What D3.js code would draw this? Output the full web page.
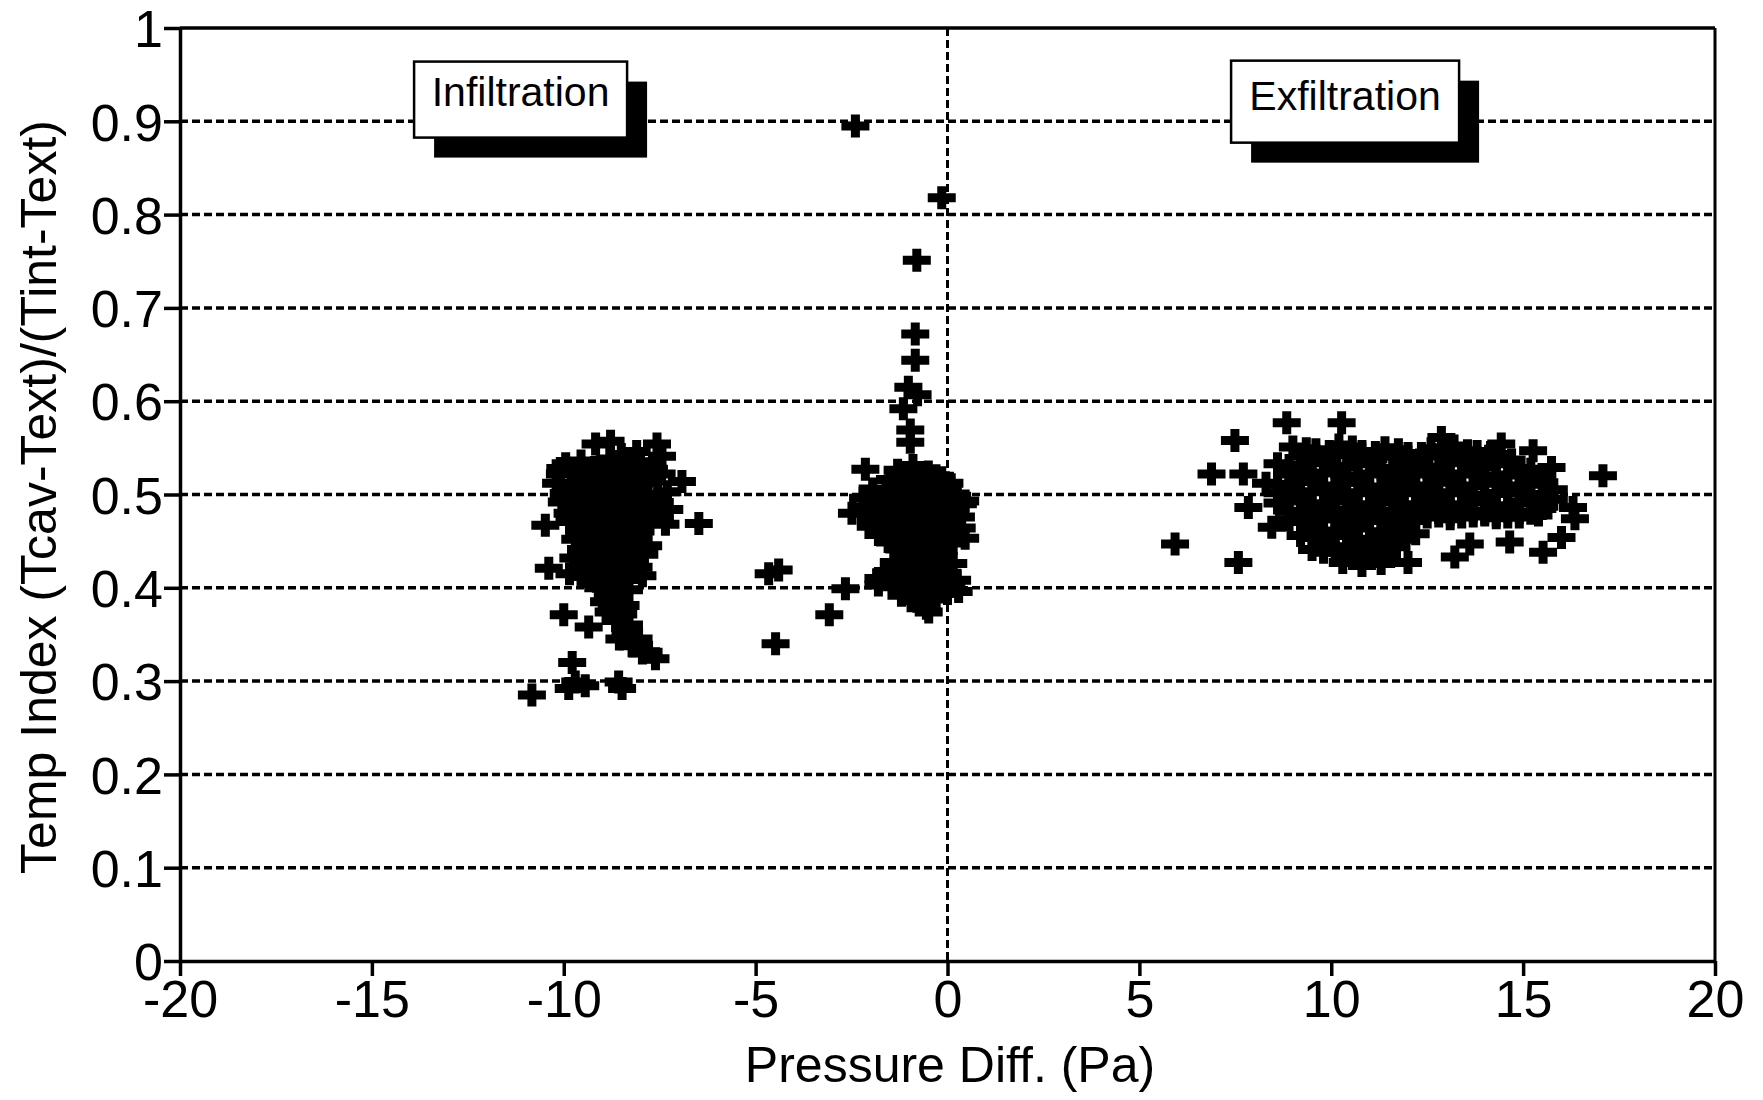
<!DOCTYPE html>
<html>
<head>
<meta charset="utf-8">
<script src="https://d3js.org/d3.v7.min.js"></script>
<style>
  body { margin: 0; background: #fff; }
  svg text { font-family: "Liberation Sans", Arial, Helvetica, sans-serif; fill: #000; }
</style>
</head>
<body>
<svg id="chart" width="1763" height="1100"></svg>
<script>
// tick values / labels
const xTicks = [-20, -15, -10, -5, 0, 5, 10, 15, 20];
const xTickLabels = ["-20", "-15", "-10", "-5", "0", "5", "10", "15", "20"];
const yTicks = [0, 0.1, 0.2, 0.3, 0.4, 0.5, 0.6, 0.7, 0.8, 0.9, 1];
const yTickLabels = ["0", "0.1", "0.2", "0.3", "0.4", "0.5", "0.6", "0.7", "0.8", "0.9", "1"];
const labelTexts = ["Infiltration", "Exfiltration"];

// readings: [pressure diff (Pa), temp index]
const infiltrationPts = [
  [-9.17,0.554],[-8.78,0.557],[-7.57,0.554],[-7.44,0.541],[-10.09,0.528],[-6.92,0.514],
  [-6.48,0.469],[-7.35,0.468],[-10.48,0.467],[-10.39,0.421],[-10.0,0.371],[-9.35,0.358],
  [-8.39,0.381],[-7.79,0.331],[-7.61,0.324],[-9.78,0.320],[-9.70,0.299],[-9.87,0.292],
  [-9.44,0.295],[-8.57,0.299],[-8.48,0.292],[-10.83,0.285],
  [-8.83,0.374],[-8.39,0.353],[-8.22,0.338],[-8.83,0.396],[-8.57,0.389],[-8.95,0.385],
  [-8.65,0.365],[-8.05,0.345],
  [-8.5,0.543],[-8.1,0.546],
  [-9.95,0.533],[-9.55,0.536],[-9.2,0.529],[-8.8,0.538],[-8.4,0.531],[-8.0,0.535],[-7.65,0.527],
  [-10.1,0.522],[-9.75,0.524],[-9.35,0.521],[-8.95,0.525],[-8.6,0.52],[-8.2,0.524],[-7.8,0.519],[-7.45,0.522],
  [-10.2,0.512],[-9.8,0.509],[-9.4,0.515],[-9.0,0.511],[-8.6,0.516],[-8.2,0.508],[-7.8,0.513],[-7.3,0.503],
  [-10.0,0.501],[-9.6,0.5],[-9.2,0.503],[-8.8,0.499],[-8.4,0.502],[-8.0,0.498],[-7.55,0.5],
  [-10.05,0.492],[-9.6,0.488],[-9.2,0.494],[-8.8,0.489],[-8.4,0.493],[-8.0,0.487],[-7.6,0.491],[-7.25,0.484],
  [-9.9,0.48],[-9.45,0.482],[-9.05,0.479],[-8.65,0.483],[-8.25,0.478],[-7.85,0.481],[-7.5,0.477],
  [-9.85,0.471],[-9.45,0.468],[-9.05,0.473],[-8.6,0.466],[-8.2,0.472],[-7.85,0.469],
  [-9.6,0.461],[-9.2,0.459],[-8.8,0.462],[-8.4,0.458],[-8.0,0.461],
  [-9.7,0.452],[-9.3,0.448],[-8.9,0.454],[-8.5,0.447],[-8.1,0.451],[-7.8,0.445],
  [-9.55,0.441],[-9.15,0.438],[-8.75,0.442],[-8.35,0.437],[-7.95,0.44],
  [-9.75,0.432],[-9.35,0.428],[-8.95,0.434],[-8.55,0.427],[-8.15,0.431],[-7.9,0.436],
  [-9.6,0.421],[-9.2,0.418],[-8.8,0.423],[-8.4,0.419],[-8.05,0.422],
  [-9.55,0.412],[-9.15,0.407],[-8.75,0.414],[-8.35,0.409],[-7.95,0.413],[-9.85,0.415],
  [-9.1,0.4],[-8.7,0.402],[-8.3,0.398],[-8.75,0.38],[-8.45,0.372],[-8.55,0.345],[-8.3,0.36],[-7.95,0.33]
];

const nearZeroPts = [
  [-2.40,0.895],[-0.15,0.818],[-0.80,0.751],[-0.84,0.672],[-0.84,0.644],[-1.02,0.615],
  [-0.78,0.607],[-1.15,0.592],[-0.97,0.569],[-0.97,0.556],[-2.14,0.527],[-2.49,0.480],
  [0.46,0.493],[0.37,0.464],[0.46,0.453],[-1.80,0.403],[0.29,0.396],[-0.49,0.374],[-0.55,0.378],
  [-4.66,0.415],[-4.40,0.419],[-4.48,0.340],[-3.08,0.371],[-2.66,0.399],
  [-1.3,0.526],[-0.9,0.531],[-0.5,0.524],[-0.15,0.518],
  [-1.5,0.516],[-1.1,0.518],[-0.7,0.515],[-0.3,0.52],[0.05,0.512],
  [-1.95,0.506],[-1.6,0.503],[-1.2,0.509],[-0.8,0.502],[-0.4,0.507],[0.0,0.503],[0.25,0.498],
  [-2.2,0.496],[-1.8,0.494],[-1.4,0.497],[-1.0,0.493],[-0.6,0.496],[-0.2,0.492],[0.15,0.495],[0.4,0.49],
  [-2.2,0.486],[-1.8,0.483],[-1.4,0.488],[-1.0,0.482],[-0.6,0.487],[-0.2,0.481],[0.2,0.485],
  [-2.0,0.475],[-1.6,0.473],[-1.2,0.476],[-0.8,0.472],[-0.4,0.475],[0.0,0.471],[0.35,0.476],
  [-2.0,0.466],[-1.6,0.463],[-1.2,0.468],[-0.8,0.462],[-0.4,0.467],[0.0,0.464],
  [-1.8,0.457],[-1.4,0.455],[-1.0,0.458],[-0.6,0.455],[-0.2,0.457],[0.2,0.456],
  [-1.5,0.449],[-1.1,0.452],[-0.7,0.447],[-0.3,0.451],[0.1,0.448],
  [-1.3,0.442],[-0.9,0.44],[-0.5,0.443],[-0.1,0.44],
  [-1.0,0.435],[-0.6,0.432],[-0.3,0.437],
  [-1.4,0.427],[-1.0,0.425],[-0.6,0.428],[-0.2,0.424],[0.15,0.426],
  [-1.6,0.416],[-1.2,0.419],[-0.8,0.413],[-0.4,0.418],[0.0,0.414],
  [-1.8,0.41],[-1.4,0.409],[-1.0,0.41],[-0.6,0.409],[-0.2,0.41],[0.25,0.408],
  [-1.4,0.401],[-1.0,0.397],[-0.6,0.402],[-0.2,0.398],[0.1,0.404],
  [-1.2,0.392],[-0.8,0.393],[-0.4,0.392],[0.0,0.394],
  [-0.95,0.386],[-0.6,0.384],[-0.3,0.388]
];

const exfiltrationPts = [
  [7.49,0.558],[6.88,0.522],[5.93,0.447],[7.58,0.427],[8.84,0.577],[10.27,0.577],
  [7.71,0.522],[7.84,0.486],[8.45,0.465],[17.08,0.520],[16.30,0.486],[16.35,0.474],
  [16.0,0.454],[15.52,0.438],[14.65,0.449],[13.22,0.433],[12.0,0.427],[13.61,0.447],
  [15.74,0.529],[12.87,0.561],[14.43,0.554],[15.26,0.547],
  [9.0,0.551],[9.6,0.548],[10.2,0.553],[10.8,0.546],[11.4,0.550],[12.0,0.544],[12.6,0.549],[13.2,0.552],[13.8,0.546],[14.4,0.543],
  [9.35,0.549],[9.95,0.546],[10.55,0.551],[11.15,0.545],[11.75,0.548],[12.35,0.544],[12.95,0.55],[13.55,0.547],[14.15,0.545],
  [9.3,0.541],[9.9,0.539],[10.5,0.543],[11.1,0.538],[11.7,0.541],[12.3,0.537],[12.9,0.542],[13.5,0.539],[14.1,0.541],[14.7,0.537],
  [8.6,0.533],[9.2,0.529],[9.8,0.535],[10.4,0.530],[11.0,0.534],[11.6,0.528],[12.2,0.533],[12.8,0.529],[13.4,0.535],[14.0,0.530],[14.6,0.534],[15.2,0.527],
  [8.9,0.531],[9.5,0.534],[10.1,0.529],[10.7,0.533],[11.3,0.527],[11.9,0.532],[12.5,0.528],[13.1,0.534],[13.7,0.529],[14.3,0.533],[14.9,0.528],
  [8.9,0.522],[9.5,0.52],[10.1,0.524],[10.7,0.519],[11.3,0.523],[11.9,0.518],[12.5,0.522],[13.1,0.519],[13.7,0.523],[14.3,0.518],[14.9,0.522],[15.5,0.52],
  [9.2,0.521],[9.8,0.523],[10.4,0.52],[11.0,0.522],[11.6,0.519],[12.2,0.523],[12.8,0.52],[13.4,0.522],[14.0,0.52],[14.6,0.521],[15.2,0.519],
  [8.3,0.512],[8.9,0.509],[9.5,0.514],[10.1,0.508],[10.7,0.513],[11.3,0.507],[11.9,0.512],[12.5,0.508],[13.1,0.514],[13.7,0.509],[14.3,0.513],[14.9,0.507],[15.5,0.511],
  [8.6,0.511],[9.2,0.514],[9.8,0.509],[10.4,0.513],[11.0,0.508],[11.6,0.512],[12.2,0.509],[12.8,0.513],[13.4,0.508],[14.0,0.512],[14.6,0.509],[15.2,0.513],
  [8.6,0.502],[9.2,0.5],[9.8,0.504],[10.4,0.499],[11.0,0.503],[11.6,0.498],[12.2,0.502],[12.8,0.499],[13.4,0.503],[14.0,0.498],[14.6,0.502],[15.2,0.5],[15.8,0.505],
  [8.9,0.501],[9.5,0.503],[10.1,0.5],[10.7,0.502],[11.3,0.499],[11.9,0.503],[12.5,0.5],[13.1,0.502],[13.7,0.499],[14.3,0.501],[14.9,0.503],[15.5,0.498],
  [8.6,0.491],[9.2,0.494],[9.8,0.489],[10.4,0.493],[11.0,0.488],[11.6,0.492],[12.2,0.489],[12.8,0.494],[13.4,0.488],[14.0,0.492],[14.6,0.487],[15.2,0.491],[15.8,0.495],
  [8.9,0.493],[9.5,0.49],[10.1,0.494],[10.7,0.489],[11.3,0.493],[11.9,0.488],[12.5,0.492],[13.1,0.489],[13.7,0.493],[14.3,0.488],[14.9,0.492],[15.5,0.49],
  [8.9,0.482],[9.5,0.479],[10.1,0.483],[10.7,0.478],[11.3,0.482],[11.9,0.477],[12.5,0.483],[13.1,0.479],[13.7,0.482],[14.3,0.478],[14.9,0.481],[15.5,0.485],
  [9.2,0.481],[9.8,0.483],[10.4,0.48],[11.0,0.482],[11.6,0.479],[12.2,0.483],[12.8,0.481],[13.4,0.483],[14.0,0.48],[14.6,0.482],[15.2,0.48],
  [8.9,0.473],[9.5,0.469],[10.1,0.474],[10.7,0.468],[11.3,0.472],[11.9,0.467],[12.5,0.476],[13.1,0.474],[13.7,0.477],[14.3,0.475],[14.9,0.476],[15.4,0.478],
  [9.2,0.471],[9.8,0.474],[10.4,0.47],[11.0,0.473],[11.6,0.469],[12.2,0.472],[12.8,0.477],[13.4,0.476],[14.0,0.478],[14.6,0.476],
  [9.5,0.463],[10.1,0.461],[10.7,0.464],[11.3,0.46],[11.9,0.463],
  [9.2,0.456],[9.8,0.452],[10.4,0.457],[11.0,0.451],[11.6,0.455],[12.2,0.458],
  [9.5,0.454],[10.1,0.456],[10.7,0.452],[11.3,0.455],[11.9,0.452],
  [9.8,0.446],[10.4,0.444],[11.0,0.447],[11.5,0.445],
  [9.5,0.441],[10.1,0.438],[10.6,0.443],[11.2,0.437],[11.7,0.444],
  [9.8,0.438],[10.4,0.436],[10.9,0.44],[11.4,0.435],
  [10.6,0.432],[11.0,0.434],
  [10.3,0.427],[10.8,0.424],[11.3,0.426]
];

const svg = d3.select("#chart");
const plotLeft = 180, plotRight = 1715, plotTop = 28, plotBottom = 961;

const x = d3.scaleLinear().domain([-20, 20]).range([plotLeft, plotRight]);
const y = d3.scaleLinear().domain([0, 1]).range([plotBottom, plotTop]);

// dotted grid lines
const grid = svg.append("g");
grid.selectAll("line.h")
  .data(yTicks.filter(d => d > 0 && d < 1))
  .enter().append("line")
  .attr("x1", plotLeft).attr("x2", plotRight)
  .attr("y1", d => y(d)).attr("y2", d => y(d))
  .attr("stroke", "#000").attr("stroke-width", 3.5)
  .attr("stroke-dasharray", "8,4");
grid.append("line")
  .attr("x1", x(0)).attr("x2", x(0))
  .attr("y1", plotTop).attr("y2", plotBottom)
  .attr("stroke", "#000").attr("stroke-width", 3)
  .attr("stroke-dasharray", "8,4");

// frame
svg.append("line").attr("x1", plotLeft).attr("x2", plotRight).attr("y1", plotTop).attr("y2", plotTop)
  .attr("stroke", "#000").attr("stroke-width", 3.5);
svg.append("line").attr("x1", plotRight).attr("x2", plotRight).attr("y1", plotTop).attr("y2", plotBottom)
  .attr("stroke", "#000").attr("stroke-width", 3);

const xAxis = svg.append("g")
  .attr("transform", "translate(0," + plotBottom + ")")
  .call(d3.axisBottom(x).tickValues(xTicks).tickSize(15).tickSizeOuter(0).tickPadding(4)
    .tickFormat((d, i) => xTickLabels[i]));
xAxis.selectAll("text").attr("font-size", 52).attr("dy", "0.72em");

const yAxis = svg.append("g")
  .attr("transform", "translate(" + plotLeft + ",0)")
  .call(d3.axisLeft(y).tickValues(yTicks).tickSize(16).tickSizeOuter(0).tickPadding(1)
    .tickFormat((d, i) => yTickLabels[i]));
yAxis.selectAll("text").attr("font-size", 52).attr("dy", "0.36em");

svg.selectAll(".domain, .tick line").attr("stroke", "#000").attr("stroke-width", 3.5);

// axis titles
svg.append("text")
  .attr("x", 950).attr("y", 1082)
  .attr("text-anchor", "middle")
  .attr("font-size", 50)
  .text("Pressure Diff. (Pa)");

svg.append("text")
  .attr("transform", "translate(56,497) rotate(-90)")
  .attr("text-anchor", "middle")
  .attr("font-size", 50)
  .text("Temp Index (Tcav-Text)/(Tint-Text)");

// label boxes with drop shadow (box corner in data units, size in px)
const boxes = [
  { x0: -13.9, y0: 0.964, w: 213, h: 76, base: 44 },
  { x0: 7.39, y0: 0.965, w: 228, h: 82, base: 49 }
];
const shadow = 20;
const labels = svg.append("g").selectAll("g")
  .data(labelTexts)
  .enter().append("g")
  .attr("transform", (d, i) => "translate(" + x(boxes[i].x0) + "," + y(boxes[i].y0) + ")");
labels.append("rect")
  .attr("x", shadow).attr("y", shadow)
  .attr("width", (d, i) => boxes[i].w).attr("height", (d, i) => boxes[i].h)
  .attr("fill", "#000");
labels.append("rect")
  .attr("width", (d, i) => boxes[i].w).attr("height", (d, i) => boxes[i].h)
  .attr("fill", "#fff").attr("stroke", "#000").attr("stroke-width", 2.5);
labels.append("text")
  .attr("x", (d, i) => boxes[i].w / 2).attr("y", (d, i) => boxes[i].base)
  .attr("text-anchor", "middle")
  .attr("font-size", 41)
  .text(d => d);

// plus markers
const plus = "M-14,0H14M0,-11.5V11.5";
const allPts = infiltrationPts.concat(nearZeroPts, exfiltrationPts);
svg.append("g").selectAll("path")
  .data(allPts)
  .enter().append("path")
  .attr("d", plus)
  .attr("transform", d => "translate(" + x(d[0]) + "," + y(d[1]) + ")")
  .attr("stroke", "#000")
  .attr("stroke-width", 9)
  .attr("fill", "none");
</script>
</body>
</html>
